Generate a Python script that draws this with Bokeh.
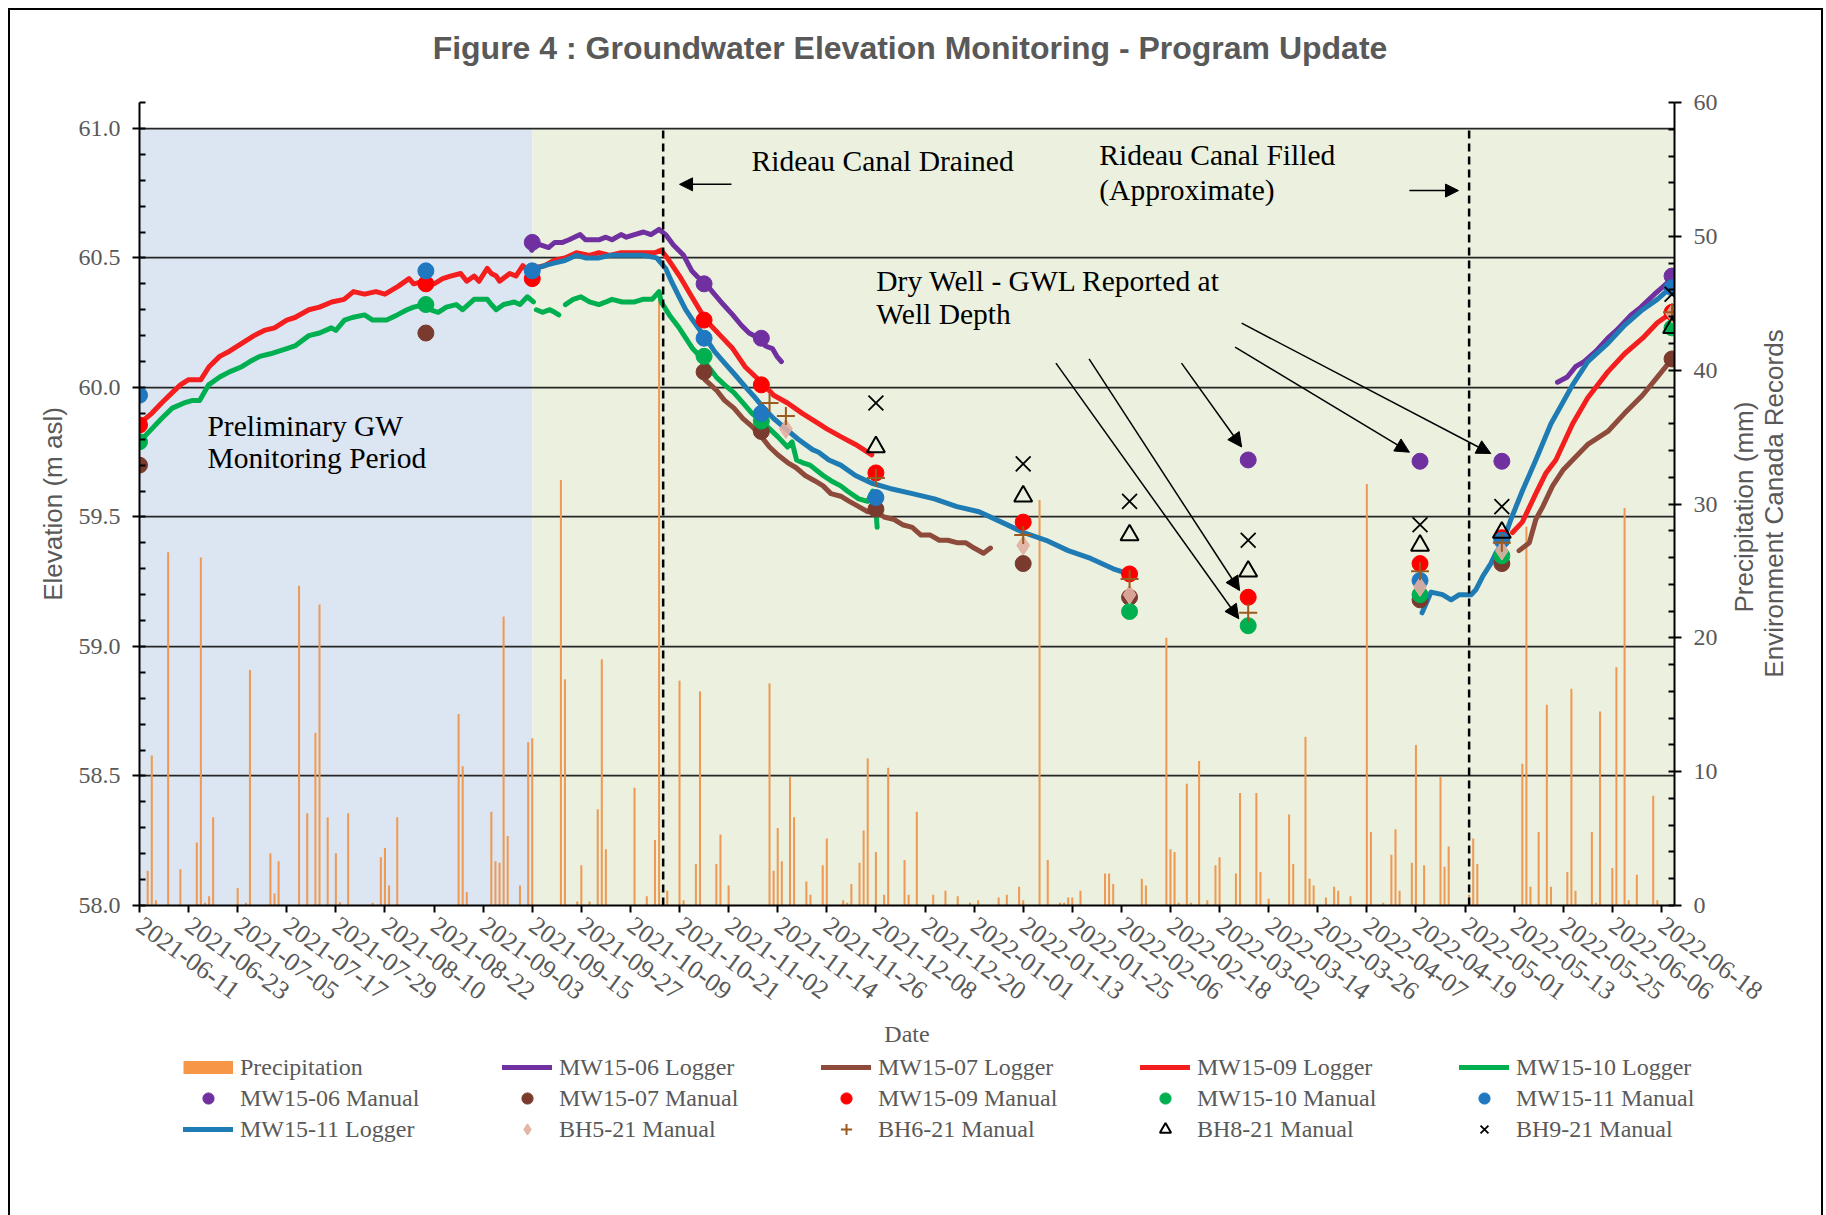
import math
import numpy as np
from bokeh.plotting import figure
from bokeh.layouts import column, row
from bokeh.models import (Range1d, LinearAxis, SingleIntervalTicker, FixedTicker,
                          DatetimeTickFormatter, PrintfTickFormatter, BoxAnnotation,
                          Label, Arrow, NormalHead, Legend, LegendItem)
from bokeh.embed import file_html
from bokeh.resources import INLINE

# ---------------- data (x values are days since START_DATE) ----------------
START_DATE = "2021-06-11"
X_END_DAYS = 375.2
TICK_LABELS = ["2021-06-11", "2021-06-23", "2021-07-05", "2021-07-17", "2021-07-29",
               "2021-08-10", "2021-08-22", "2021-09-03", "2021-09-15", "2021-09-27",
               "2021-10-09", "2021-10-21", "2021-11-02", "2021-11-14", "2021-11-26",
               "2021-12-08", "2021-12-20", "2022-01-01", "2022-01-13", "2022-01-25",
               "2022-02-06", "2022-02-18", "2022-03-02", "2022-03-14", "2022-03-26",
               "2022-04-07", "2022-04-19", "2022-05-01", "2022-05-13", "2022-05-25",
               "2022-06-06", "2022-06-18"]
PRELIM_END = "2021-09-15"
CANAL_DRAINED = "2021-10-17"
CANAL_FILLED = "2022-05-02"

PRECIP = [(2, 2.6), (3, 11.2), (4, 0.4), (7, 26.4), (10, 2.7), (14, 4.7), (15, 26.0), (16, 0.2),
          (17, 0.7), (18, 6.6), (24, 1.3), (26, 0.2), (27, 17.6), (32, 3.9), (33, 0.9), (34, 3.3),
          (39, 23.9), (41, 6.9), (43, 12.9), (44, 22.5), (46, 6.6), (48, 3.9), (49, 0.25), (51, 6.9),
          (57, 0.2), (59, 3.6), (60, 4.3), (61, 1.5), (63, 6.6), (78, 14.3), (79, 10.4), (80, 1.0),
          (86, 7.0), (87, 3.3), (88, 3.2), (89, 21.6), (90, 5.2), (93, 1.5), (95, 12.2), (96, 12.5),
          (103, 31.8), (104, 16.9), (107, 0.3), (108, 3.0), (110, 0.3), (112, 7.2), (113, 18.4),
          (114, 4.2), (121, 8.8), (124, 0.7), (126, 4.9), (127, 46.0), (128, 0.25), (129, 1.1),
          (132, 16.8), (133, 0.4), (136, 3.1), (137, 16.0), (141, 3.1), (142, 5.3), (144, 1.5),
          (154, 16.6), (155, 2.6), (156, 5.8), (157, 3.3), (159, 9.6), (160, 6.6), (163, 1.8),
          (164, 0.8), (167, 3.0), (168, 5.0), (172, 0.4), (173, 0.2), (174, 1.6), (176, 3.2),
          (177, 5.6), (178, 11.0), (180, 4.0), (182, 0.8), (183, 10.3), (187, 3.4), (188, 0.8),
          (190, 7.0), (194, 0.8), (197, 1.1), (200, 0.7), (203, 0.2), (205, 0.4), (210, 0.6),
          (212, 0.8), (215, 1.4), (216, 0.4), (220, 30.3), (222, 3.4), (225, 0.2), (226, 0.2),
          (227, 0.6), (228, 0.6), (230, 1.1), (236, 2.4), (237, 2.4), (238, 1.6), (245, 2.0),
          (246, 1.5), (251, 20.0), (252, 4.2), (253, 4.0), (254, 0.2), (256, 9.1), (257, 0.2),
          (259, 10.8), (261, 0.4), (263, 3.0), (264, 3.6), (268, 2.4), (269, 8.4), (273, 8.4),
          (274, 2.5), (276, 0.5), (281, 6.8), (282, 3.1), (285, 12.6), (286, 2.0), (287, 1.5),
          (290, 0.6), (292, 1.4), (293, 1.1), (296, 0.7), (300, 31.5), (301, 5.5), (304, 0.2),
          (306, 3.8), (307, 5.7), (308, 1.1), (311, 3.2), (312, 12.0), (314, 3.0), (318, 9.6),
          (319, 2.9), (320, 4.4), (325, 0.8), (326, 5.0), (327, 3.1), (338, 10.6), (339, 28.3),
          (340, 1.4), (342, 5.5), (344, 15.0), (345, 1.4), (349, 2.5), (350, 16.2), (351, 1.1),
          (355, 5.5), (356, 0.2), (357, 14.5), (360, 2.8), (361, 17.8), (363, 29.7), (364, 0.4),
          (366, 2.3), (370, 8.2), (371, 0.4)]

MW1506_LOGGER = [(95.9, 60.53), (96.5, 60.55), (98, 60.55), (100, 60.54), (101.5, 60.56), (103.4, 60.56),
                 (105, 60.57), (107.7, 60.59), (109, 60.57), (112.3, 60.57), (114, 60.58), (115.5, 60.57),
                 (117.7, 60.59), (119, 60.58), (121, 60.59), (123.2, 60.60), (125, 60.59), (127, 60.61),
                 (128.6, 60.59), (130.5, 60.55), (133, 60.51), (135, 60.45), (136.2, 60.43), (138.4, 60.40),
                 (140, 60.37), (142.7, 60.32), (145, 60.28), (147.1, 60.24), (149, 60.21), (151.4, 60.19),
                 (153, 60.16), (154.7, 60.15), (155.8, 60.12), (156.9, 60.10), None,
                 (346.6, 60.02), (349, 60.04), (351, 60.08), (353.1, 60.10), (356, 60.14), (358.9, 60.19),
                 (361, 60.22), (364.6, 60.28), (367, 60.31), (370.3, 60.36), (372.5, 60.39), (374.6, 60.42)]

MW1507_LOGGER = [(138.2, 60.03), (141, 59.99), (143, 59.95), (145.3, 59.92), (147.5, 59.88), (149.7, 59.85),
                 (152, 59.81), (154, 59.77), (156, 59.74), (158.4, 59.71), (160.5, 59.69), (162.7, 59.66),
                 (165, 59.64), (167.1, 59.62), (169, 59.59), (171.4, 59.58), (173.5, 59.56), (175.8, 59.54),
                 (178, 59.52), (180.2, 59.52), (182, 59.50), (184.5, 59.49), (186.5, 59.47), (188.9, 59.46),
                 (191, 59.43), (193.3, 59.43), (195.5, 59.41), (197.6, 59.41), (200, 59.40), (202, 59.40),
                 (204, 59.38), (206.3, 59.36), (208, 59.38), None,
                 (337.2, 59.37), (339.7, 59.40), (341.3, 59.49), (343, 59.54), (345.4, 59.62), (347.9, 59.68),
                 (350.3, 59.72), (354, 59.78), (358.9, 59.83), (363, 59.90), (367.4, 59.97), (371, 60.04),
                 (374.6, 60.11)]

MW1509_LOGGER = [(0, 59.86), (3, 59.90), (5.4, 59.94), (8, 59.98), (10, 60.01), (12, 60.03), (15, 60.03),
                 (17, 60.08), (19.6, 60.12), (22, 60.14), (25, 60.17), (28, 60.20), (30.5, 60.22), (33, 60.23),
                 (36, 60.26), (38, 60.27), (41.4, 60.30), (44, 60.31), (47, 60.33), (50, 60.34), (52.3, 60.37),
                 (55, 60.36), (57.8, 60.37), (60, 60.36), (63.2, 60.39), (65.9, 60.42), (67, 60.40),
                 (69.7, 60.41), (72, 60.40), (74.1, 60.42), (76, 60.43), (78.5, 60.44), (80, 60.41),
                 (81.8, 60.43), (83, 60.41), (85, 60.46), (86, 60.44), (87.2, 60.43), (88, 60.41),
                 (90.5, 60.44), (92, 60.43), (93.7, 60.47), (95, 60.45), (96, 60.46), (99, 60.47),
                 (101.3, 60.49), (104, 60.50), (106.8, 60.52), (110, 60.51), (112.3, 60.52), (115, 60.51),
                 (117.7, 60.52), (120, 60.52), (123.2, 60.52), (126, 60.52), (127.5, 60.53), (129, 60.50),
                 (132, 60.43), (135, 60.35), (138.4, 60.26), (142, 60.20), (145, 60.15), (148, 60.08),
                 (152, 60.02), (155, 59.97), (158.4, 59.94), (162, 59.90), (166, 59.86), (168, 59.84),
                 (171.4, 59.81), (175, 59.78), (179, 59.74), None,
                 (335.6, 59.44), (338, 59.48), (341.3, 59.59), (343.8, 59.67), (346.2, 59.72), (350.3, 59.86),
                 (354, 59.96), (358.9, 60.06), (363, 60.13), (367.4, 60.19), (371, 60.25), (374.6, 60.29)]

MW1510_LOGGER = [(0, 59.79), (3, 59.84), (5.4, 59.88), (8, 59.92), (10.9, 59.94), (13, 59.95), (14.7, 59.95),
                 (16.9, 60.01), (19.6, 60.04), (22, 60.06), (25, 60.08), (27, 60.10), (29.4, 60.12),
                 (32, 60.13), (36, 60.15), (38, 60.16), (41.4, 60.20), (44, 60.21), (46.9, 60.23),
                 (48, 60.22), (50.1, 60.26), (52, 60.27), (55, 60.28), (57, 60.26), (60.4, 60.26),
                 (63, 60.28), (65.4, 60.30), (67, 60.31), (69.7, 60.32), (71, 60.30), (73, 60.29),
                 (75, 60.31), (77.4, 60.32), (79, 60.30), (81.8, 60.34), (83, 60.34), (85, 60.34),
                 (86, 60.32), (87.2, 60.30), (89, 60.32), (91.6, 60.33), (93, 60.32), (94.8, 60.35),
                 (96.3, 60.33), None,
                 (97, 60.30), (98.5, 60.29), (100.3, 60.30), (101.5, 60.29), (102.5, 60.28), None,
                 (104.1, 60.32), (106, 60.34), (107.9, 60.35), (110, 60.33), (112.3, 60.32), (114, 60.33),
                 (115.5, 60.34), (118, 60.33), (121, 60.33), (123, 60.34), (125.3, 60.34), (127, 60.37),
                 (127.5, 60.33), (129.5, 60.28), (131.9, 60.23), (135.2, 60.15), (137.6, 60.11), (141, 60.04),
                 (143, 60.01), (145.3, 59.98), (147.5, 59.94), (149.7, 59.90), (152, 59.87), (154, 59.84),
                 (156, 59.81), (158.4, 59.77), (159.5, 59.79), (160.6, 59.72), (162, 59.71), (163.9, 59.70),
                 (167.1, 59.66), (169, 59.64), (171.4, 59.62), (173, 59.60), (175.8, 59.57), (178, 59.56),
                 (179.2, 59.60), (179.8, 59.58), (180.3, 59.46)]

MW1511_LOGGER = [(95.9, 60.45), (97, 60.46), (99, 60.47), (101.3, 60.48), (104, 60.49), (106.8, 60.51),
                 (109, 60.50), (112.3, 60.50), (115, 60.51), (117.7, 60.51), (120, 60.51), (123.2, 60.51),
                 (126.4, 60.50), (128.6, 60.46), (130, 60.41), (131.9, 60.35), (133.5, 60.30), (135.2, 60.26),
                 (138.4, 60.19), (140.5, 60.14), (142.7, 60.10), (145.5, 60.05), (148.2, 60.00), (150.5, 59.96),
                 (152.6, 59.92), (155, 59.88), (158, 59.84), (161, 59.80), (164.5, 59.76), (166, 59.75),
                 (168.5, 59.72), (171.4, 59.70), (175, 59.66), (179, 59.63), (183.4, 59.61), (188.9, 59.59),
                 (194.3, 59.57), (199.8, 59.54), (205.2, 59.52), (210.7, 59.48), (216.1, 59.44), (221.6, 59.41),
                 (227, 59.37), (232.5, 59.34), (238, 59.30), (241.8, 59.28), None,
                 (313.5, 59.13), (315.7, 59.21), (318.5, 59.20), (320.6, 59.18), (322.6, 59.20), (325.5, 59.20),
                 (326.7, 59.22), (328.3, 59.27), (330.3, 59.32), (331.5, 59.36), (333.2, 59.40), (335.2, 59.49),
                 (338, 59.60), (341.3, 59.72), (345, 59.86), (350.3, 60.01), (354, 60.10), (358.9, 60.17),
                 (363, 60.24), (367.4, 60.30), (371, 60.34), (374.6, 60.39)]

MW1506_MANUAL = [(96, 60.56), (138, 60.40), (152, 60.19), (271, 59.72), (313, 59.715), (333, 59.715), (374.6, 60.43)]
MW1507_MANUAL = [(0, 59.70), (70, 60.21), (138, 60.06), (152, 59.83), (180, 59.53), (216, 59.32), (242, 59.19),
                 (313, 59.18), (333, 59.32), (374.6, 60.11)]
MW1509_MANUAL = [(0, 59.855), (70, 60.40), (96, 60.42), (138, 60.26), (152, 60.01), (180, 59.67), (216, 59.48),
                 (242, 59.28), (271, 59.19), (313, 59.32), (333, 59.42), (374.6, 60.29)]
MW1510_MANUAL = [(0, 59.79), (70, 60.32), (138, 60.12), (152, 59.87), (242, 59.135), (271, 59.08), (313, 59.20),
                 (333, 59.35), (374.6, 60.23)]
MW1511_MANUAL = [(0, 59.97), (70, 60.45), (96, 60.45), (138, 60.19), (152, 59.90), (180, 59.575), (313, 59.255),
                 (333, 59.41), (374.6, 60.385)]
BH521_MANUAL = [(158, 59.84), (216, 59.39), (242, 59.20), (313, 59.23), (333, 59.37), (374.6, 60.285)]
BH621_MANUAL = [(154, 59.94), (158, 59.89), (180, 59.65), (216, 59.43), (242, 59.26), (271, 59.13), (313, 59.29),
                (333, 59.40), (374.6, 60.29)]
BH821_MANUAL = [(180, 59.77), (216, 59.58), (242, 59.43), (271, 59.29), (313, 59.39), (333, 59.44), (374.6, 60.23)]
BH921_MANUAL = [(180, 59.94), (216, 59.705), (242, 59.56), (271, 59.41), (313, 59.47), (333, 59.54), (374.6, 60.36)]

LEGEND_LABELS = ["Precipitation", "MW15-06 Logger", "MW15-07 Logger", "MW15-09 Logger", "MW15-10 Logger",
                 "MW15-06 Manual", "MW15-07 Manual", "MW15-09 Manual", "MW15-10 Manual", "MW15-11 Manual",
                 "MW15-11 Logger", "BH5-21 Manual", "BH6-21 Manual", "BH8-21 Manual", "BH9-21 Manual"]

TITLE = "Figure 4 : Groundwater Elevation Monitoring - Program Update"
RIGHT_LABEL_1 = "Precipitation  (mm)"
RIGHT_LABEL_2 = "Environment Canada Records"

# ---------------- helpers ----------------
DAY_MS = 86400000.0
START_MS = float(np.datetime64(START_DATE, "ms").astype(np.int64))


def date_ms(s):
    return float(np.datetime64(s, "ms").astype(np.int64))


def day_ms(d):
    return START_MS + float(d) * DAY_MS


def unpack(pairs):
    xs, ys = [], []
    for p_ in pairs:
        if p_ is None:
            xs.append(np.nan)
            ys.append(np.nan)
        else:
            xs.append(day_ms(p_[0]))
            ys.append(p_[1])
    return np.array(xs), np.array(ys)


def strip(width, height, alpha=1.0):
    f = figure(width=width, height=height, output_backend="svg", toolbar_location=None,
               x_range=Range1d(0, 1), y_range=Range1d(0, 1), title=None,
               x_axis_location=None, y_axis_location=None,
               min_border_left=0, min_border_right=0, min_border_top=0, min_border_bottom=0,
               background_fill_color="white", border_fill_color="white",
               background_fill_alpha=alpha, border_fill_alpha=alpha)
    f.outline_line_color = None
    f.xgrid.visible = False
    f.ygrid.visible = False
    return f


GRAY = "#595959"
SERIF = "Liberation Serif"
SANS = "Liberation Sans"
W = 1811
H_TITLE = 60
H_MAIN = 983
H_LEG = 162
W_RIGHT = 95
H_RIGHT = 560
RIGHT_TOP = 220

p = figure(width=W, height=H_MAIN, output_backend="svg", toolbar_location=None, title=None,
           x_axis_type="datetime",
           x_range=Range1d(START_MS, day_ms(X_END_DAYS)),
           y_range=Range1d(58.0, 61.1),
           min_border_left=129, min_border_right=147, min_border_top=32, min_border_bottom=148,
           background_fill_color="white", border_fill_color="white")
p.outline_line_color = None
p.extra_y_ranges = {"precip": Range1d(0, 60)}

# background periods
p.add_layout(BoxAnnotation(left=START_MS, right=date_ms(PRELIM_END), bottom=58.0, top=61.0,
                           fill_color="#DCE6F2", fill_alpha=1.0, line_color=None, level="image"))
p.add_layout(BoxAnnotation(left=date_ms(PRELIM_END), right=day_ms(X_END_DAYS), bottom=58.0, top=61.0,
                           fill_color="#EBF1DE", fill_alpha=1.0, line_color=None, level="image"))

# axes
p.xaxis.ticker = FixedTicker(ticks=[date_ms(s) for s in TICK_LABELS], minor_ticks=[])
fmt = "%Y-%m-%d"
p.xaxis.formatter = DatetimeTickFormatter(milliseconds=fmt, seconds=fmt, minsec=fmt, minutes=fmt,
                                          hourmin=fmt, hours=fmt, days=fmt, months=fmt, years=fmt)
p.xaxis.major_label_orientation = -0.63
p.xaxis.axis_label = "Date"

p.yaxis.ticker = SingleIntervalTicker(interval=0.5, num_minor_ticks=5)
p.yaxis.formatter = PrintfTickFormatter(format="%.1f")
p.yaxis.axis_label = "Elevation (m asl)"

rax = LinearAxis(y_range_name="precip", ticker=SingleIntervalTicker(interval=10, num_minor_ticks=5))
p.add_layout(rax, "right")

for ax in [p.xaxis[0], p.yaxis[0], rax]:
    ax.axis_line_color = "black"
    ax.axis_line_width = 2
    ax.major_tick_line_color = "black"
    ax.major_tick_line_width = 2
    ax.major_tick_out = 7
    ax.major_tick_in = 0
    ax.minor_tick_line_color = "black"
    ax.minor_tick_line_width = 2
    ax.minor_tick_in = 6
    ax.minor_tick_out = 0
    ax.major_label_text_font = SERIF
    ax.major_label_text_font_size = "24px"
    ax.major_label_text_color = GRAY
    ax.major_label_standoff = 10
    ax.axis_label_text_color = GRAY
    ax.axis_label_text_font_style = "normal"

p.xaxis.major_label_text_font_size = "26px"
p.xaxis.axis_label_text_font = SERIF
p.xaxis.axis_label_text_font_size = "24px"
p.xaxis.axis_label_standoff = 10
p.yaxis.axis_label_text_font = SANS
p.yaxis.axis_label_text_font_size = "26px"
p.yaxis.axis_label_standoff = 8
p.yaxis.major_label_standoff = 12
rax.major_label_standoff = 12

p.xgrid.visible = False
p.ygrid.grid_line_color = "#262626"
p.ygrid.grid_line_width = 1.75

# styles shared by plot and legend
PRECIP_STYLE = dict(line_width=13, line_color="#F79646")
LOGGER_STYLES = [dict(line_color=c, line_width=5, line_cap="round", line_join="round")
                 for c in ["#7030A0", "#8E4B3B", "#F41E1E", "#00B050", "#1F7BB4"]]
MANUAL_STYLES = [dict(marker="circle", size=16, fill_color="#7030A0", line_color="#7030A0"),
                 dict(marker="circle", size=16, fill_color="#7B3A2E", line_color="#7B3A2E"),
                 dict(marker="circle", size=16, fill_color="#FF0000", line_color="#FF0000"),
                 dict(marker="circle", size=16, fill_color="#00B050", line_color="#00B050"),
                 dict(marker="circle", size=16, fill_color="#1F78C0", line_color="#1F78C0"),
                 dict(marker="diamond", size=19, fill_color="#E2AFA2", line_color="#E2AFA2", fill_alpha=0.9),
                 dict(marker="cross", size=18, fill_color=None, line_color="#9C5A1E", line_width=2),
                 dict(marker="triangle", size=18, fill_color=None, line_color="black", line_width=2),
                 dict(marker="x", size=21, fill_color=None, line_color="black", line_width=1.8)]

# precipitation bars
px, py = unpack(PRECIP)
p.vbar(x=px, top=py, bottom=0, width=0.5 * DAY_MS, y_range_name="precip",
       fill_color="#EE9A55", line_color=None)

# logger lines
for pairs, st in zip([MW1506_LOGGER, MW1507_LOGGER, MW1509_LOGGER, MW1510_LOGGER, MW1511_LOGGER],
                     LOGGER_STYLES):
    x, y = unpack(pairs)
    p.line(x=x, y=y, **st)

# canal dashed lines
for d in [CANAL_DRAINED, CANAL_FILLED]:
    p.segment(x0=[date_ms(d)], y0=[58.0], x1=[date_ms(d)], y1=[61.0], line_color="black",
              line_width=2.5, line_dash="8 5")

# manual measurements
for pairs, st in zip([MW1506_MANUAL, MW1507_MANUAL, MW1509_MANUAL, MW1510_MANUAL, MW1511_MANUAL,
                      BH521_MANUAL, BH621_MANUAL, BH821_MANUAL, BH921_MANUAL], MANUAL_STYLES):
    x, y = unpack(pairs)
    p.scatter(x=x, y=y, **st)

# annotations
def text(day, y, s, size="29.5px"):
    p.add_layout(Label(x=day_ms(day), y=y, text=s, text_font=SERIF, text_font_size=size,
                       text_color="black", text_baseline="middle", text_align="left"))

text(149.6, 60.874, "Rideau Canal Drained")
text(234.6, 60.896, "Rideau Canal Filled")
text(234.6, 60.764, "(Approximate)")
text(180.1, 60.409, "Dry Well - GWL Reported at")
text(180.1, 60.282, "Well Depth")
text(16.6, 59.853, "Preliminary GW")
text(16.6, 59.726, "Monitoring Period")

def arrow(d0, y0, d1, y1, size=14):
    p.add_layout(Arrow(x_start=day_ms(d0), y_start=y0, x_end=day_ms(d1), y_end=y1,
                       line_color="black", line_width=1.5,
                       end=NormalHead(size=size, fill_color="black", line_color="black")))

arrow(144.7, 60.784, 132.0, 60.784, 13)
arrow(310.4, 60.76, 322.4, 60.76, 13)
arrow(224.0, 60.094, 268.7, 59.107)
arrow(232.1, 60.11, 268.9, 59.216)
arrow(254.7, 60.094, 269.4, 59.77)
arrow(267.8, 60.156, 310.4, 59.75)
arrow(269.4, 60.248, 330.3, 59.745)

# ---------------- title strip ----------------
t = strip(W, H_TITLE)
t.add_layout(Label(x=899.5, y=H_TITLE - 37, x_units="screen", y_units="screen", text=TITLE,
                   text_font=SANS, text_font_style="bold", text_font_size="32px",
                   text_color=GRAY, text_align="center", text_baseline="middle"))

# ---------------- right-hand axis title (transparent strip laid over the chart's right margin) ----
r = strip(W_RIGHT, H_RIGHT, alpha=0.0)
for xx, s in [(17, RIGHT_LABEL_1), (47, RIGHT_LABEL_2)]:
    r.add_layout(Label(x=xx, y=(RIGHT_TOP + H_RIGHT) - 433, x_units="screen", y_units="screen",
                       angle=math.pi / 2, text=s, text_font=SANS, text_font_size="26px",
                       text_color=GRAY, text_align="center", text_baseline="middle"))
r.styles = {"margin-left": f"-{W_RIGHT}px", "margin-top": f"{RIGHT_TOP}px"}

# ---------------- legend strip ----------------
q = strip(W, H_LEG)
OFF = [-10.0, -9.0]   # outside the strip's ranges: only the legend swatches show
leg_r = {}
leg_r["Precipitation"] = q.line(x=OFF, y=OFF, **PRECIP_STYLE)
for lab, st in zip(["MW15-06 Logger", "MW15-07 Logger", "MW15-09 Logger", "MW15-10 Logger",
                    "MW15-11 Logger"], LOGGER_STYLES):
    leg_r[lab] = q.line(x=OFF, y=OFF, **st)
for lab, st in zip(["MW15-06 Manual", "MW15-07 Manual", "MW15-09 Manual", "MW15-10 Manual",
                    "MW15-11 Manual", "BH5-21 Manual", "BH6-21 Manual", "BH8-21 Manual",
                    "BH9-21 Manual"], MANUAL_STYLES):
    leg_r[lab] = q.scatter(x=OFF, y=OFF, **st)

items = [LegendItem(label=lab, renderers=[leg_r[lab]]) for lab in LEGEND_LABELS]
legend = Legend(items=items, ncols=5, orientation="horizontal", location=(173, H_LEG - 90),
                label_text_font=SERIF, label_text_font_size="24px", label_text_color=GRAY,
                glyph_width=50, glyph_height=28, label_height=28, label_width=259,
                label_standoff=7, spacing=3, padding=0, margin=0,
                border_line_color=None, background_fill_alpha=0)
q.add_layout(legend)

for fig in (p, q, t, r):
    if "frame_align" in fig.properties():
        fig.frame_align = False

layout = column(t, row(p, r, spacing=0), q, spacing=0,
                styles={"margin-left": "8px", "margin-top": "8px",
                        "border-left": "2px solid #000", "border-right": "2px solid #000",
                        "border-top": "2px solid #000"})

open("out.html", "w").write(file_html(layout, INLINE))
